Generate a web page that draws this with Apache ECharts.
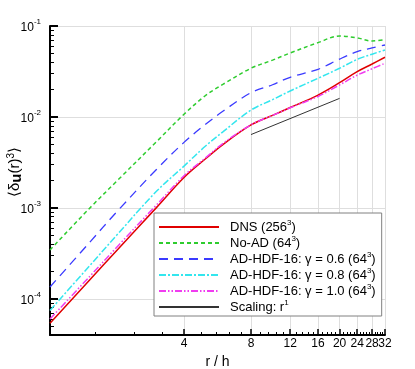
<!DOCTYPE html>
<html><head><meta charset="utf-8">
<script src="https://cdn.jsdelivr.net/npm/echarts@6/dist/echarts.min.js"></script>
<style>html,body{margin:0;padding:0;background:#fff}#c{width:415px;height:369px}</style>
</head><body><div id="c"></div>
<script>
// ---- data ----
const r = [1, 1.5, 2, 3, 4, 5, 6, 8, 10, 12, 16, 20, 24, 28, 32];
const dns  = [5.4e-5, 1.59e-4, 3.42e-4, 1.0e-3, 2.16e-3, 3.47e-3, 5.0e-3, 8.17e-3, 1.04e-2, 1.27e-2, 1.74e-2, 2.38e-2, 3.15e-2, 3.82e-2, 4.53e-2];
const noAD = [3.45e-4, 9.8e-4, 1.98e-3, 5.3e-3, 1.07e-2, 1.72e-2, 2.29e-2, 3.43e-2, 4.22e-2, 5.05e-2, 6.56e-2, 7.76e-2, 7.41e-2, 6.84e-2, 7.08e-2];
const g06  = [1.35e-4, 4.12e-4, 9.1e-4, 2.63e-3, 5.25e-3, 8.3e-3, 1.16e-2, 1.85e-2, 2.26e-2, 2.73e-2, 3.34e-2, 4.33e-2, 5.22e-2, 5.75e-2, 6.18e-2];
const g08  = [7.45e-5, 2.28e-4, 5.05e-4, 1.51e-3, 2.88e-3, 4.79e-3, 6.9e-3, 1.19e-2, 1.55e-2, 1.93e-2, 2.66e-2, 3.43e-2, 4.3e-2, 4.9e-2, 5.45e-2];
const g10  = [6.0e-5, 1.74e-4, 3.72e-4, 1.07e-3, 2.26e-3, 3.55e-3, 5.13e-3, 8.2e-3, 1.04e-2, 1.26e-2, 1.68e-2, 2.25e-2, 2.88e-2, 3.39e-2, 3.89e-2];
const scalingR = [8, 20];
const scalingV = [0.0064, 0.016];

const seriesNames = ['DNS (256³)', 'No-AD (64³)', 'AD-HDF-16: γ = 0.6 (64³)', 'AD-HDF-16: γ = 0.8 (64³)', 'AD-HDF-16: γ = 1.0 (64³)', 'Scaling: r¹'];
const legendRich = ['DNS (256{sup|3})', 'No-AD (64{sup|3})', 'AD-HDF-16: γ = 0.6 (64{sup|3})', 'AD-HDF-16: γ = 0.8 (64{sup|3})', 'AD-HDF-16: γ = 1.0 (64{sup|3})', 'Scaling: r{sup|1}'];

const xMajorTicks = [4, 8, 12, 16, 20, 24, 28, 32];
const xLabelsA = [4, 8, 12, 16, 20, 24, 32];
const xLabelsB = [28];
const yMajorTicks = [1e-4, 1e-3, 1e-2, 1e-1];
const xMinorTicks = [];
for (let i = 2; i <= 39; i++) { if (i % 5 !== 0) xMinorTicks.push(+(i * 0.8).toFixed(2)); }
const yMinorTicks = [];
[1e-5, 1e-4, 1e-3, 1e-2].forEach(d => { for (let k = 2; k <= 9; k++) { const v = +(k * d).toPrecision(3); if (v > 4.01e-5 && v < 0.1) yMinorTicks.push(v); } });

const FONT = 'Liberation Sans, Arial, sans-serif';
const pairs = (xs, ys) => xs.map((x, i) => [x, ys[i]]);

const chart = echarts.init(document.getElementById('c'), null, {renderer: 'canvas'});
const baseX = {type: 'log', logBase: 10, min: 1, max: 32.002, gridIndex: 0, position: 'bottom'};
const baseY = {type: 'log', logBase: 10, min: 4e-5, max: 0.10001, gridIndex: 0, position: 'left'};
const xLabelStyle = {show: true, margin: 3, fontFamily: FONT, fontSize: 12, color: '#000',
  hideOverlap: false, showMinLabel: true, showMaxLabel: true, formatter: v => String(Math.round(v))};

chart.setOption({
  animation: false,
  backgroundColor: '#fff',
  grid: {left: 50, right: 30, top: 26, bottom: 34, containLabel: false, outerBoundsMode: 'none'},
  xAxis: [
    Object.assign({}, baseX, {
      name: 'r / h', nameLocation: 'middle', nameGap: 14,
      nameTextStyle: {fontFamily: FONT, fontSize: 14, color: '#000'},
      axisLine: {show: true, lineStyle: {color: '#000', width: 2}},
      axisTick: {show: true, inside: true, length: 6, customValues: xMajorTicks, lineStyle: {color: '#000', width: 1.5}},
      axisLabel: Object.assign({customValues: xLabelsA}, xLabelStyle),
      splitLine: {show: true, lineStyle: {color: '#dedede', width: 1}},
      minorTick: {show: false}
    }),
    Object.assign({}, baseX, {
      axisLine: {show: false},
      axisTick: {show: true, inside: true, length: 3, customValues: xMinorTicks, lineStyle: {color: '#000', width: 1}},
      axisLabel: Object.assign({customValues: xLabelsB}, xLabelStyle),
      splitLine: {show: false}
    })
  ],
  yAxis: [
    Object.assign({}, baseY, {
      axisLine: {show: true, lineStyle: {color: '#000', width: 2}},
      axisTick: {show: true, inside: true, length: 8, customValues: yMajorTicks, lineStyle: {color: '#000', width: 2}},
      axisLabel: {show: true, customValues: yMajorTicks, margin: 9, color: '#000', showMinLabel: true, showMaxLabel: true,
        formatter: v => '{b|10}{sup|' + Math.round(Math.log10(v)) + '}',
        rich: {
          b: {fontFamily: FONT, fontSize: 12, color: '#000', lineHeight: 16, verticalAlign: 'bottom'},
          sup: {fontFamily: FONT, fontSize: 8, color: '#000', lineHeight: 16, verticalAlign: 'top'}
        }},
      splitLine: {show: true, lineStyle: {color: '#dedede', width: 1}}
    }),
    Object.assign({}, baseY, {
      axisLine: {show: false},
      axisTick: {show: true, inside: true, length: 4, customValues: yMinorTicks, lineStyle: {color: '#000', width: 1}},
      axisLabel: {show: false},
      splitLine: {show: false}
    })
  ],
  legend: {
    show: true, orient: 'vertical', left: 154, top: 213,
    padding: [6, 6, 1, 4], itemGap: 0, itemWidth: 60, itemHeight: 16,
    backgroundColor: '#fff', borderColor: '#808080', borderWidth: 1,
    selectedMode: false,
    itemStyle: {opacity: 0},
    data: seriesNames,
    formatter: name => legendRich[seriesNames.indexOf(name)],
    textStyle: {fontFamily: FONT, fontSize: 13, color: '#000', padding: [0, 0, 0, 6], lineHeight: 16,
      rich: {sup: {fontFamily: FONT, fontSize: 8, color: '#000', verticalAlign: 'top', lineHeight: 16}}}
  },
  graphic: [{
    type: 'text', x: 15, y: 172, rotation: Math.PI / 2,
    style: {
      text: '⟨δ{bu|u}(r){sup|3}⟩', fontFamily: FONT, fontSize: 15, fill: '#000',
      align: 'center', verticalAlign: 'middle',
      rich: {
        bu: {fontFamily: FONT, fontSize: 15, fontWeight: 'bold', fill: '#000', verticalAlign: 'bottom', lineHeight: 18},
        sup: {fontFamily: FONT, fontSize: 10, fill: '#000', verticalAlign: 'top', lineHeight: 18}
      }
    }
  }],
  series: [
    {name: seriesNames[0], type: 'line', xAxisIndex: 0, yAxisIndex: 0, data: pairs(r, dns), smooth: 0.35, symbol: 'none',
     lineStyle: {color: '#e00000', width: 1.5, type: 'solid'}, itemStyle: {color: '#e00000'}},
    {name: seriesNames[1], type: 'line', xAxisIndex: 0, yAxisIndex: 0, data: pairs(r, noAD), smooth: 0.35, symbol: 'none',
     lineStyle: {color: '#2ecc2e', width: 1.5, type: [4, 3]}, itemStyle: {color: '#2ecc2e'}},
    {name: seriesNames[2], type: 'line', xAxisIndex: 0, yAxisIndex: 0, data: pairs(r, g06), smooth: 0.35, symbol: 'none',
     lineStyle: {color: '#3a3aff', width: 1.3, type: [9, 6]}, itemStyle: {color: '#3a3aff'}},
    {name: seriesNames[3], type: 'line', xAxisIndex: 0, yAxisIndex: 0, data: pairs(r, g08), smooth: 0.35, symbol: 'none',
     lineStyle: {color: '#33e6ee', width: 1.5, type: [7, 2, 2, 2]}, itemStyle: {color: '#33e6ee'}},
    {name: seriesNames[4], type: 'line', xAxisIndex: 0, yAxisIndex: 0, data: pairs(r, g10), smooth: 0.35, symbol: 'none',
     lineStyle: {color: '#f03cf0', width: 1.5, type: [7, 2, 1.5, 2, 1.5, 2]}, itemStyle: {color: '#f03cf0'}},
    {name: seriesNames[5], type: 'line', xAxisIndex: 0, yAxisIndex: 0, data: pairs(scalingR, scalingV), symbol: 'none',
     lineStyle: {color: '#333', width: 1, type: 'solid'}, itemStyle: {color: '#333'}}
  ]
});
</script>
</body></html>
